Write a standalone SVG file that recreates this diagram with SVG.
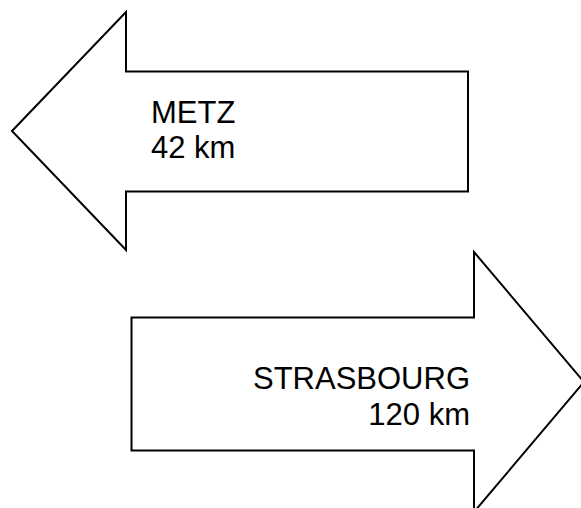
<svg xmlns="http://www.w3.org/2000/svg" width="581" height="508" viewBox="0 0 581 508">
<style>
.arrow{fill:#ffffff;stroke:#000000;stroke-width:2;stroke-linejoin:miter}
.lbl{font-family:"Liberation Sans",Arial,sans-serif;font-size:31px;fill:#000000}
</style>
<rect width="581" height="508" fill="#ffffff"/>
<g id="metz">
<polygon class="arrow" points="12,131 126,12 126,71.5 468,71.5 468,191.5 126,191.5 126,250"/>
<text class="lbl" x="151" y="123">METZ</text>
<text class="lbl" x="151" y="158">42 km</text>
</g>
<g id="strasbourg">
<polygon class="arrow" points="131.5,317.5 474,317.5 474,252 584,382 474,512 474,450.5 131.5,450.5"/>
<text class="lbl" x="470" y="389" text-anchor="end">STRASBOURG</text>
<text class="lbl" x="470" y="425" text-anchor="end">120 km</text>
</g>
<g id="connectors"/>
</svg>
